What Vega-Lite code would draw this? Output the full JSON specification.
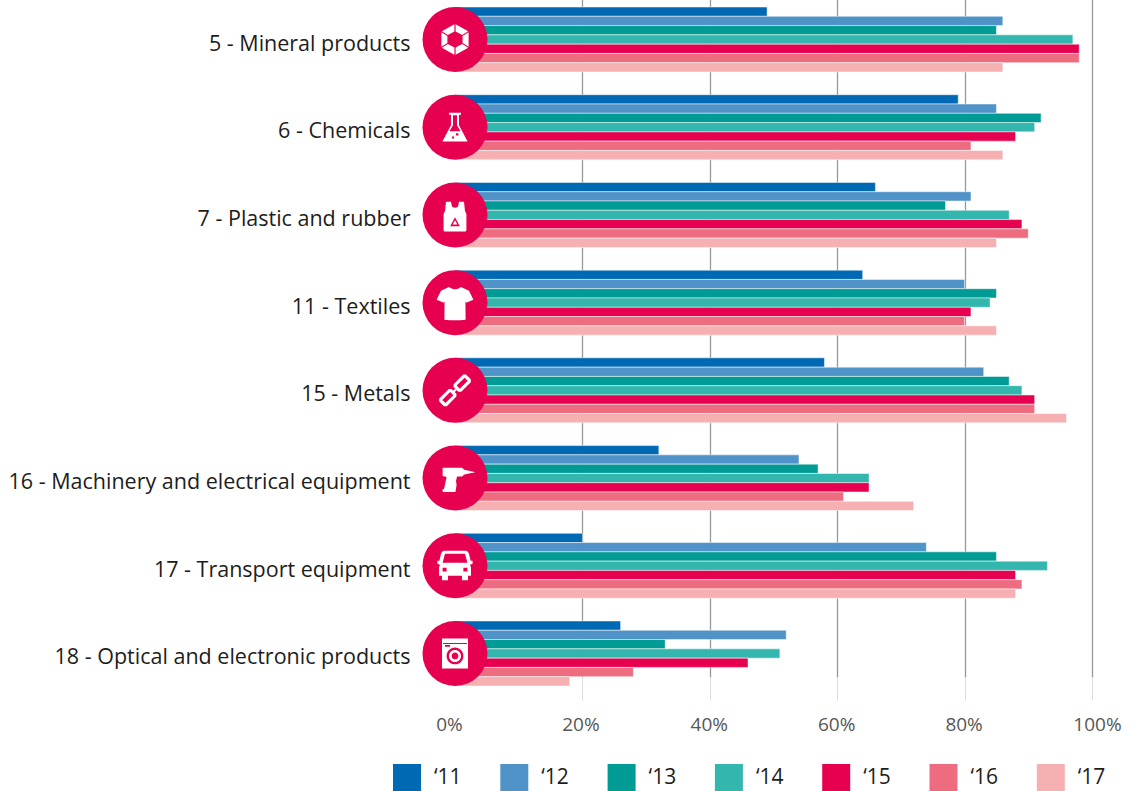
{
"$schema":"https://vega.github.io/schema/vega-lite/v6.json",
"autosize":"none",
"padding":{"left":455,"top":0,"right":38,"bottom":114},
"width":637,"height":677,
"background":"white",
"config":{"view":{"stroke":null},"font":"Open Sans"},
"datasets":{
"shares":[
{"sector":"5 - Mineral products","year":"‘11","share":49},{"sector":"5 - Mineral products","year":"‘12","share":86},{"sector":"5 - Mineral products","year":"‘13","share":85},{"sector":"5 - Mineral products","year":"‘14","share":97},{"sector":"5 - Mineral products","year":"‘15","share":98},{"sector":"5 - Mineral products","year":"‘16","share":98},{"sector":"5 - Mineral products","year":"‘17","share":86},
{"sector":"6 - Chemicals","year":"‘11","share":79},{"sector":"6 - Chemicals","year":"‘12","share":85},{"sector":"6 - Chemicals","year":"‘13","share":92},{"sector":"6 - Chemicals","year":"‘14","share":91},{"sector":"6 - Chemicals","year":"‘15","share":88},{"sector":"6 - Chemicals","year":"‘16","share":81},{"sector":"6 - Chemicals","year":"‘17","share":86},
{"sector":"7 - Plastic and rubber","year":"‘11","share":66},{"sector":"7 - Plastic and rubber","year":"‘12","share":81},{"sector":"7 - Plastic and rubber","year":"‘13","share":77},{"sector":"7 - Plastic and rubber","year":"‘14","share":87},{"sector":"7 - Plastic and rubber","year":"‘15","share":89},{"sector":"7 - Plastic and rubber","year":"‘16","share":90},{"sector":"7 - Plastic and rubber","year":"‘17","share":85},
{"sector":"11 - Textiles","year":"‘11","share":64},{"sector":"11 - Textiles","year":"‘12","share":80},{"sector":"11 - Textiles","year":"‘13","share":85},{"sector":"11 - Textiles","year":"‘14","share":84},{"sector":"11 - Textiles","year":"‘15","share":81},{"sector":"11 - Textiles","year":"‘16","share":80},{"sector":"11 - Textiles","year":"‘17","share":85},
{"sector":"15 - Metals","year":"‘11","share":58},{"sector":"15 - Metals","year":"‘12","share":83},{"sector":"15 - Metals","year":"‘13","share":87},{"sector":"15 - Metals","year":"‘14","share":89},{"sector":"15 - Metals","year":"‘15","share":91},{"sector":"15 - Metals","year":"‘16","share":91},{"sector":"15 - Metals","year":"‘17","share":96},
{"sector":"16 - Machinery and electrical equipment","year":"‘11","share":32},{"sector":"16 - Machinery and electrical equipment","year":"‘12","share":54},{"sector":"16 - Machinery and electrical equipment","year":"‘13","share":57},{"sector":"16 - Machinery and electrical equipment","year":"‘14","share":65},{"sector":"16 - Machinery and electrical equipment","year":"‘15","share":65},{"sector":"16 - Machinery and electrical equipment","year":"‘16","share":61},{"sector":"16 - Machinery and electrical equipment","year":"‘17","share":72},
{"sector":"17 - Transport equipment","year":"‘11","share":20},{"sector":"17 - Transport equipment","year":"‘12","share":74},{"sector":"17 - Transport equipment","year":"‘13","share":85},{"sector":"17 - Transport equipment","year":"‘14","share":93},{"sector":"17 - Transport equipment","year":"‘15","share":88},{"sector":"17 - Transport equipment","year":"‘16","share":89},{"sector":"17 - Transport equipment","year":"‘17","share":88},
{"sector":"18 - Optical and electronic products","year":"‘11","share":26},{"sector":"18 - Optical and electronic products","year":"‘12","share":52},{"sector":"18 - Optical and electronic products","year":"‘13","share":33},{"sector":"18 - Optical and electronic products","year":"‘14","share":51},{"sector":"18 - Optical and electronic products","year":"‘15","share":46},{"sector":"18 - Optical and electronic products","year":"‘16","share":28},{"sector":"18 - Optical and electronic products","year":"‘17","share":18}
],
"sectors":[{"sector":"5 - Mineral products"},{"sector":"6 - Chemicals"},{"sector":"7 - Plastic and rubber"},{"sector":"11 - Textiles"},{"sector":"15 - Metals"},{"sector":"16 - Machinery and electrical equipment"},{"sector":"17 - Transport equipment"},{"sector":"18 - Optical and electronic products"}]
},
"encoding":{
"y":{"field":"sector","type":"nominal","sort":null,"title":null,
"scale":{"domain":["5 - Mineral products","6 - Chemicals","7 - Plastic and rubber","11 - Textiles","15 - Metals","16 - Machinery and electrical equipment","17 - Transport equipment","18 - Optical and electronic products"],"range":[0,693],"paddingInner":0.259,"paddingOuter":0.08},
"axis":{"domain":false,"ticks":false,"labelPadding":45,"labelFontSize":21.5,"labelColor":"#1d1d1b","labelLimit":500,"labelFont":"Open Sans","labelOffset":5,"zindex":1}}
},
"layer":[
{"data":{"name":"shares"},
"mark":{"type":"bar","stroke":"#ffffff","strokeWidth":0.7,"strokeOpacity":0.7},
"encoding":{
"x":{"field":"share","type":"quantitative","title":null,"scale":{"domain":[0,100],"nice":false},
"axis":{"values":[0,20,40,60,80,100],"labelExpr":"datum.value + '%'","labelFlush":false,"domain":false,"grid":true,"gridColor":"#999999","gridWidth":1.3,"gridOpacity":{"condition":{"test":"datum.value === 0","value":0},"value":1},"tickColor":"#dddddd","tickSize":23,"tickWidth":1,"tickOpacity":{"condition":{"test":"datum.value === 0","value":0},"value":1},"labelOffset":{"condition":[{"test":"datum.value === 0","value":-6},{"test":"datum.value === 100","value":5},{"test":"datum.value === 20","value":-2}],"value":-1},"labelPadding":15,"labelFontSize":19,"labelColor":"#575756","labelFont":"Open Sans"}},
"yOffset":{"field":"year","type":"nominal","sort":null,"scale":{"paddingInner":0,"paddingOuter":0}},
"color":{"field":"year","type":"nominal","sort":null,
"scale":{"domain":["‘11","‘12","‘13","‘14","‘15","‘16","‘17"],"range":["#0069B4","#4F93C9","#009B94","#32B6AE","#E6004F","#EE6C80","#F6B0B2"]},
"legend":{"title":null,"orient":"none","legendX":-62,"legendY":764,"columns":7,"symbolType":"square","symbolSize":784,"symbolStrokeWidth":0,"symbolOpacity":1,"labelFontSize":21,"labelColor":"#1d1d1b","labelOffset":13,"columnPadding":38.3,"labelFont":"Open Sans"}}
}},
{"data":{"name":"sectors"},
"mark":{"type":"circle","size":4225,"fill":"#E6004F","opacity":1},
"encoding":{"x":{"datum":0,"type":"quantitative"}}},
{"data":{"name":"sectors"},
"mark":{"type":"point","size":1600,"filled":true,"fill":"#ffffff","opacity":1,"strokeWidth":0},
"encoding":{"x":{"datum":0,"type":"quantitative"},
"shape":{"field":"sector","type":"nominal","sort":null,"legend":null,
"scale":{"domain":["5 - Mineral products","6 - Chemicals","7 - Plastic and rubber","11 - Textiles","15 - Metals","16 - Machinery and electrical equipment","17 - Transport equipment","18 - Optical and electronic products"],
"range":[
"M.03 -.76L.66 -.41L.36 -.22L.03 -.4ZM.68 -.36L.68 .36L.38 .18L.38 -.18ZM.66 .41L.03 .76L.03 .4L.36 .22ZM-.03 -.76L-.66 -.41L-.36 -.22L-.03 -.4ZM-.68 -.36L-.68 .36L-.38 .18L-.38 -.18ZM-.66 .41L-.03 .76L-.03 .4L-.36 .22Z",
"M-.3 -.72H.3V-.62H.2V-.1L.63 .72H-.63L-.2 -.1V-.62H-.3ZM-.1 -.6V-.1L-.28 .2H.28L.1 -.1V-.6ZM.05 .3V.42H.17V.3ZM-.15 .46V.56H-.05V.46Z",
"M-.45 -.66H-.2L-.15 -.42Q0 -.3 .15 -.42L.2 -.66H.45L.5 -.2L.57 -.05V.75Q.57 .83 .5 .83H-.5Q-.57 .83 -.57 .75V-.05L-.5 -.2ZM0 .12L-.24 .56H.24ZM0 .26L.12 .48H-.12Z",
"M-.3 -.78Q0 -.55 .3 -.78L.7 -.6L.92 -.15L.55 0L.52 -.1L.53 .85Q0 .9 -.53 .85L-.52 -.1L-.55 0L-.92 -.15L-.7 -.6Z",
"M.409 -.791H.551L.791 -.551V-.409L.311 .071H.169L-.071 -.169V-.311ZM.48 -.636L.084 -.24L.24 -.084L.636 -.48ZM-.409 .791H-.551L-.791 .551V.409L-.311 -.071H-.169L.071 .169V.311ZM-.48 .636L-.084 .24L-.24 .084L-.636 .48ZM.106 -.176L.176 -.106L-.106 .176L-.176 .106Z",
"M-.62 -.52H.35L.47 -.42L.7 -.36L1.02 -.29L.7 -.23L.47 -.18L.35 -.08H.1L.05 .15L.08 .35L.02 .7H-.62V.55H-.55L-.42 -.05L-.62 -.1Z",
"M-.55 -.75H.55Q.65 -.75 .7 -.6L.78 -.25H.88V-.1L.75 -.05Q.8 .05 .8 .15V.5H.65V.72H.35V.5H-.35V.72H-.65V.5H-.8V.15Q-.8 .05 -.75 -.05L-.88 -.1V-.25H-.78L-.7 -.6Q-.65 -.75 -.55 -.75ZM-.5 -.6L-.62 -.15H.62L.5 -.6ZM-.62 .1V.28H-.42V.1ZM.42 .1V.28H.62V.1Z",
"M-.65 -.75H.65V.75H-.65ZM-.6 -.52V-.48H.6V-.52ZM-.5 -.42V-.34H-.25V-.42ZM0 -.3C-.232 -.3 -.42 -.112 -.42 .12C-.42 .352 -.232 .54 0 .54C.232 .54 .42 .352 .42 .12C.42 -.112 .232 -.3 0 -.3ZM0 -.18C.166 -.18 .3 -.046 .3 .12C.3 .286 .166 .42 0 .42C-.166 .42 -.3 .286 -.3 .12C-.3 -.046 -.166 -.18 0 -.18ZM0 -.05C-.094 -.05 -.17 .026 -.17 .12C-.17 .214 -.094 .29 0 .29C.094 .29 .17 .214 .17 .12C.17 .026 .094 -.05 0 -.05Z"
]}}}}
]
}
